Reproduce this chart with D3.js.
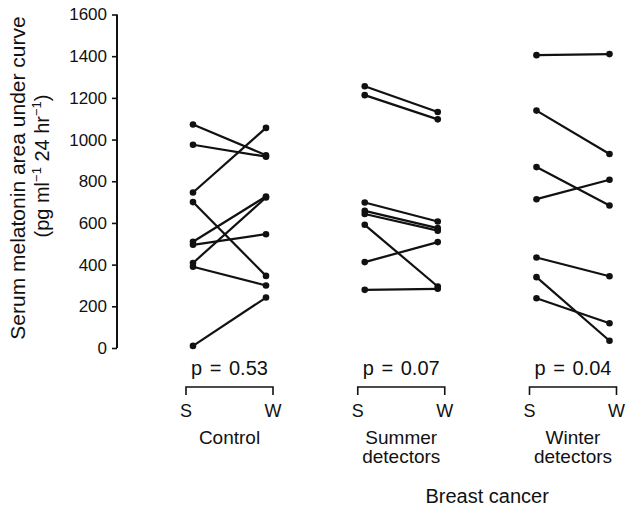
<!DOCTYPE html>
<html>
<head>
<meta charset="utf-8">
<script src="https://cdn.jsdelivr.net/npm/d3@7"></script>
<style>
    body { margin: 0; background: #fff; }
    svg text { font-family: "Liberation Sans", Arial, Helvetica, sans-serif; fill: #111; }
</style>
</head>
<body>
<svg id="chart" width="627" height="509"></svg>
<script>

// groups and season labels
var groups = ["Control", "Summer detectors", "Winter detectors"];
var groupLines = [["Control"], ["Summer", "detectors"], ["Winter", "detectors"]];
var seasons = ["S", "W"];
var pValues = ["p = 0.53", "p = 0.07", "p = 0.04"];
var yTicks = [0, 200, 400, 600, 800, 1000, 1200, 1400, 1600];

// paired values, S[i] joined to W[i]
var controlS = [1072, 975, 746, 700, 510, 495, 408, 390, 10];
var controlW = [925, 918, 1056, 346, 727, 546, 722, 300, 242];

var summerS = [1256, 1213, 698, 658, 643, 591, 412, 279];
var summerW = [1132, 1097, 607, 575, 563, 295, 508, 284];

var winterS = [1405, 1139, 868, 714, 434, 340, 239];
var winterW = [1410, 931, 684, 807, 344, 35, 119];

var seriesS = [controlS, summerS, winterS];
var seriesW = [controlW, summerW, winterW];

var svg = d3.select("#chart");

var y = d3.scaleLinear()
    .domain([0, 1600])
    .range([348, 14.5]);

var xGroup = d3.scalePoint()
    .domain(groups)
    .range([229.5, 573]);

var xSeason = d3.scalePoint()
    .domain(seasons)
    .range([-36.5, 36.5]);

function xPos(g, s) { return xGroup(g) + xSeason(s); }

// y axis
var yAxis = svg.append("g")
    .attr("transform", "translate(117,0)")
    .call(d3.axisLeft(y).tickValues(yTicks).tickSize(5).tickPadding(5).tickFormat(d3.format("d")));

yAxis.select(".domain")
    .attr("stroke", "#111")
    .attr("stroke-width", 2)
    .attr("d", "M0," + y(1600) + "V" + y(0));
yAxis.selectAll(".tick line").attr("stroke", "#111").attr("stroke-width", 1.6);
yAxis.selectAll(".tick text")
    .style("font-size", "17px")
    .attr("fill", "#111");

// y title
var yTitle = svg.append("g");
yTitle.append("text")
    .attr("transform", "translate(25,178) rotate(-90)")
    .attr("text-anchor", "middle")
    .style("font-size", "21px")
    .text("Serum melatonin area under curve");

var t2 = yTitle.append("text")
    .attr("transform", "translate(49,166) rotate(-90)")
    .attr("text-anchor", "middle")
    .style("font-size", "20px");
t2.append("tspan").text("(pg ml");
t2.append("tspan").attr("dy", -8).style("font-size", "13px").text("\u22121");
t2.append("tspan").attr("dy", 8).text(" 24 hr");
t2.append("tspan").attr("dy", -8).style("font-size", "13px").text("\u22121");
t2.append("tspan").attr("dy", 8).text(")");

// paired lines and dots
groups.forEach(function(g, gi) {
    var pairs = seriesS[gi].map(function(s, i) { return {s: s, w: seriesW[gi][i]}; });
    var grp = svg.append("g").attr("class", "group");

    grp.selectAll(".pair")
        .data(pairs)
        .enter().append("line")
        .attr("class", "pair")
        .attr("x1", xPos(g, "S"))
        .attr("x2", xPos(g, "W"))
        .attr("y1", function(d) { return y(d.s); })
        .attr("y2", function(d) { return y(d.w); })
        .attr("stroke", "#111")
        .attr("stroke-width", 2.2);

    grp.selectAll(".dotS")
        .data(pairs)
        .enter().append("circle")
        .attr("class", "dotS")
        .attr("cx", xPos(g, "S"))
        .attr("cy", function(d) { return y(d.s); })
        .attr("r", 3.3)
        .attr("fill", "#111");

    grp.selectAll(".dotW")
        .data(pairs)
        .enter().append("circle")
        .attr("class", "dotW")
        .attr("cx", xPos(g, "W"))
        .attr("cy", function(d) { return y(d.w); })
        .attr("r", 3.3)
        .attr("fill", "#111");

    // p value and bracket
    var x0 = xPos(g, "S") - 7, x1 = xPos(g, "W") + 7;
    grp.append("text")
        .attr("x", xGroup(g))
        .attr("y", 375)
        .attr("text-anchor", "middle")
        .style("font-size", "20px")
        .style("word-spacing", "2px")
        .text(pValues[gi]);

    grp.append("path")
        .attr("d", "M" + x0 + ",395V387H" + x1 + "V395")
        .attr("fill", "none")
        .attr("stroke", "#111")
        .attr("stroke-width", 1.6);

    grp.selectAll(".season")
        .data(seasons)
        .enter().append("text")
        .attr("class", "season")
        .attr("x", function(s, i) { return i == 0 ? x0 : x1; })
        .attr("y", 417)
        .attr("text-anchor", "middle")
        .style("font-size", "18px")
        .text(function(s) { return s; });

    grp.selectAll(".gname")
        .data(groupLines[gi])
        .enter().append("text")
        .attr("class", "gname")
        .attr("x", xGroup(g))
        .attr("y", function(d, i) { return 444 + i * 19; })
        .attr("text-anchor", "middle")
        .style("font-size", "19px")
        .text(function(d) { return d; });
});

svg.append("text")
    .attr("x", (xGroup(groups[1]) + xGroup(groups[2])) / 2)
    .attr("y", 503)
    .attr("text-anchor", "middle")
    .style("font-size", "20px")
    .text("Breast cancer");

</script>
</body>
</html>
